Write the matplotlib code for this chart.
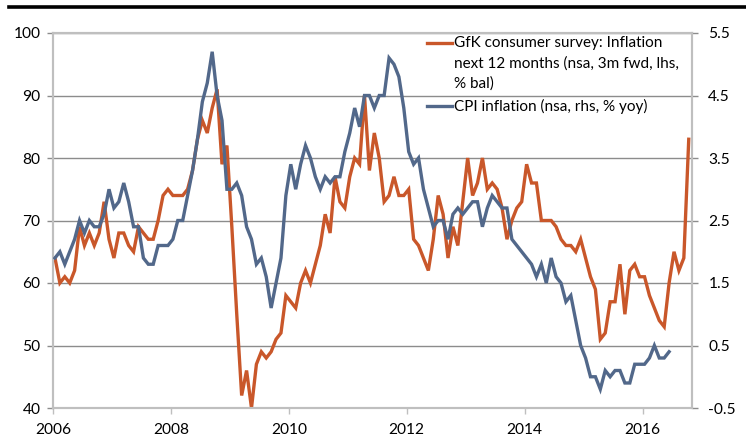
import matplotlib
matplotlib.use("Agg")
import matplotlib.pyplot as plt
from matplotlib.lines import Line2D
import numpy as np

plt.rcParams['font.family'] = ['Lato', 'DejaVu Sans']

# GfK consumer survey: inflation expectations next 12m (% balance), monthly from Jan 2006
gfk = [64, 60, 61, 60, 62, 69, 66, 68, 66, 68, 73, 67,
       64, 68, 68, 66, 65, 69, 68, 67, 67, 70, 74, 75,
       74, 74, 74, 75, 78, 83, 86, 84, 88, 91, 79, 82,
       69, 55, 42, 46, 40, 47, 49, 48, 49, 51, 52, 58,
       57, 56, 60, 62, 60, 63, 66, 71, 68, 77, 73, 72,
       77, 80, 79, 90, 78, 84, 80, 73, 74, 77, 74, 74,
       75, 67, 66, 64, 62, 67, 74, 71, 64, 69, 66, 73,
       80, 74, 76, 80, 75, 76, 75, 72, 67, 70, 72, 73,
       79, 76, 76, 70, 70, 70, 69, 67, 66, 66, 65, 67,
       64, 61, 59, 51, 52, 57, 57, 63, 55, 62, 63, 61,
       61, 58, 56, 54, 53, 60, 65, 62, 64, 83]

# CPI inflation (% yoy), monthly from Jan 2006
cpi = [1.9, 2.0, 1.8, 2.0, 2.2, 2.5, 2.3, 2.5, 2.4, 2.4, 2.6, 3.0,
       2.7, 2.8, 3.1, 2.8, 2.4, 2.4, 1.9, 1.8, 1.8, 2.1, 2.1, 2.1,
       2.2, 2.5, 2.5, 2.9, 3.3, 3.8, 4.4, 4.7, 5.2, 4.5, 4.1, 3.0,
       3.0, 3.1, 2.9, 2.4, 2.2, 1.8, 1.9, 1.6, 1.1, 1.5, 1.9, 2.9,
       3.4, 3.0, 3.4, 3.7, 3.5, 3.2, 3.0, 3.2, 3.1, 3.2, 3.2, 3.6,
       3.9, 4.3, 4.0, 4.5, 4.5, 4.3, 4.5, 4.5, 5.1, 5.0, 4.8, 4.3,
       3.6, 3.4, 3.5, 3.0, 2.7, 2.4, 2.5, 2.5, 2.2, 2.6, 2.7, 2.6,
       2.7, 2.8, 2.8, 2.4, 2.7, 2.9, 2.8, 2.7, 2.7, 2.2, 2.1, 2.0,
       1.9, 1.8, 1.6, 1.8, 1.5, 1.9, 1.6, 1.5, 1.2, 1.3, 0.9, 0.5,
       0.3, 0.0, 0.0, -0.2, 0.1, 0.0, 0.1, 0.1, -0.1, -0.1, 0.2, 0.2,
       0.2, 0.3, 0.5, 0.3, 0.3, 0.4]

year_labels = ['2006', '2008', '2010', '2012', '2014', '2016']
left_ticks = [40, 50, 60, 70, 80, 90, 100]
right_ticks = [-0.5, 0.5, 1.5, 2.5, 3.5, 4.5, 5.5]
right_labels = ['-0.5', '0.5', '1.5', '2.5', '3.5', '4.5', '5.5']

orange = '#C9572A'
blue = '#52688A'
grid_c = '#8C8C8C'
spine_c = '#BFBFBF'

W, H = 746, 447
fig = plt.figure(figsize=(W / 100, H / 100), dpi=100)
ax = fig.add_axes([53 / W, 1 - 408 / H, (691.7 - 53) / W, (408 - 33) / H])
ax2 = ax.twinx()

xg = np.arange(len(gfk)) + 0.4
xc = np.arange(len(cpi)) + 0.4
ax.plot(xg, gfk, color=orange, lw=2.4, solid_joinstyle='miter', zorder=3)
ax2.plot(xc, cpi, color=blue, lw=2.4, solid_joinstyle='miter', zorder=3)

ax.set_xlim(0, 130)
ax.set_ylim(40, 100)
ax2.set_ylim(-0.5, 5.5)
ax.set_xticks([i * 24 for i in range(len(year_labels))])
ax.set_xticklabels(year_labels)
ax.set_yticks(left_ticks)
ax.set_yticklabels([str(v) for v in left_ticks])
ax2.set_yticks(right_ticks)
ax2.set_yticklabels(right_labels)

ax.yaxis.grid(True, color=grid_c, lw=1.0)
ax.set_axisbelow(True)
for a in (ax, ax2):
    for s in a.spines.values():
        s.set_color(spine_c)
        s.set_linewidth(1.5)
ax.tick_params(axis='y', direction='out', length=4, width=1, color=grid_c,
               labelsize=11.2, pad=5, labelcolor='#000000')
ax2.tick_params(axis='y', direction='out', length=4, width=1, color=grid_c,
                labelsize=11.2, pad=8, labelcolor='#000000')
ax.tick_params(axis='x', direction='out', length=4, width=1, color=spine_c,
               labelsize=11.2, pad=7, labelcolor='#000000')

# legend drawn manually (frameless, transparent)
def leg_line(y, c):
    ax.add_line(Line2D([0.5856, 0.6247], [y, y], transform=ax.transAxes,
                       color=c, lw=2.4, clip_on=False, zorder=5))

leg_line(0.9733, orange)
leg_line(0.8053, blue)
tx = 0.6285
fs = 11.0
ax.text(tx, 0.9733, 'GfK consumer survey: Inflation', transform=ax.transAxes,
        va='center', ha='left', fontsize=fs)
ax.text(tx, 0.9187, 'next 12 months (nsa, 3m fwd, lhs,', transform=ax.transAxes,
        va='center', ha='left', fontsize=fs)
ax.text(tx, 0.864, '% bal)', transform=ax.transAxes,
        va='center', ha='left', fontsize=fs)
ax.text(tx, 0.8053, 'CPI inflation (nsa, rhs, % yoy)', transform=ax.transAxes,
        va='center', ha='left', fontsize=fs)

# top black rule
fig.add_artist(Line2D([9 / W, 1.0], [1 - 6.7 / H, 1 - 6.7 / H],
                      transform=fig.transFigure, color='black', lw=2.6))

fig.savefig('out.png', dpi=100, facecolor='white')
